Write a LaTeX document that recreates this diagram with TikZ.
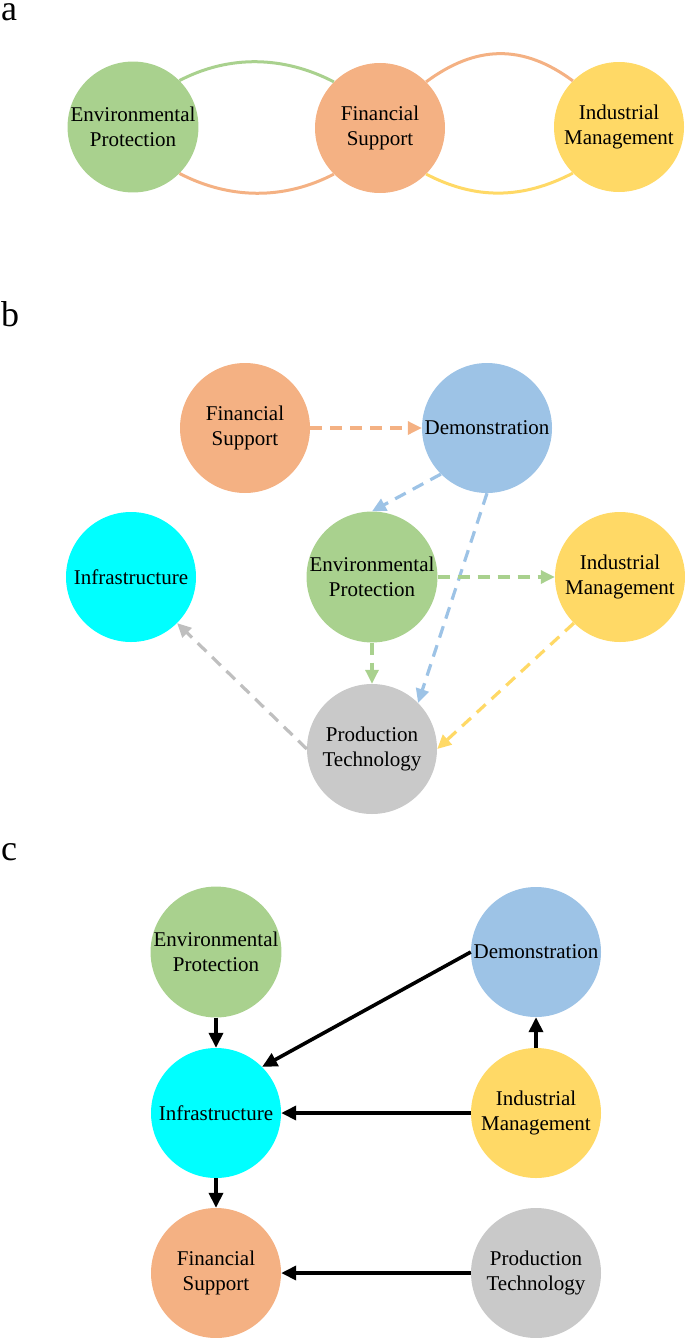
\documentclass[tikz,border=0pt]{standalone}
\usepackage{fontspec}
\setmainfont{Liberation Serif}
\usetikzlibrary{arrows.meta}
\definecolor{cgreen}{HTML}{A9D18E}
\definecolor{corange}{HTML}{F4B183}
\definecolor{cyellow}{HTML}{FFD966}
\definecolor{cblue}{HTML}{9DC3E6}
\definecolor{ccyan}{HTML}{00FFFF}
\definecolor{cgray}{HTML}{C9C9C9}
\definecolor{cgrayline}{HTML}{BFBFBF}
\tikzset{
  bub/.style={circle, minimum size=130pt, inner sep=0pt, align=center,
    font=\fontsize{21}{25}\selectfont},
  panel/.style={anchor=base west, inner sep=0pt, font=\fontsize{36}{36}\selectfont},
  arc/.style={line width=3pt},
  dasharrow/.style={line width=3.2pt, dash pattern=on 12pt off 8pt,
    -{Triangle[length=14pt,width=13pt]}},
  solidarrow/.style={line width=3.6pt, black, -{Triangle[length=15pt,width=14pt]}}
}
\begin{document}
\begin{tikzpicture}[x=1pt,y=-1pt]
\useasboundingbox (0,0) rectangle (685,1338);
% ---------- panel a ----------
\node[panel] (la) at (1,21) {a};
\node[bub, fill=cgreen]  (ga) at (133,127) {Environmental\\Protection};
\node[bub, fill=corange] (fa) at (380,128) {Financial\\Support};
\node[bub, fill=cyellow] (ia) at (619,127) {Industrial\\Management};
\draw[arc, cgreen]  (ga.45)  .. controls +(50,-26) and +(-50,-26) .. (fa.135);
\draw[arc, corange] (ga.-45) .. controls +(50,26) and +(-50,26) .. (fa.-135);
\draw[arc, corange] (fa.45)  .. controls +(50,-37) and +(-50,-37) .. (ia.135);
\draw[arc, cyellow] (fa.-45) .. controls +(50,26) and +(-50,26) .. (ia.-135);
% ---------- panel b ----------
\node[panel] (lb) at (1,326) {b};
\node[bub, fill=corange] (fb) at (245,428) {Financial\\Support};
\node[bub, fill=cblue]   (db) at (487,428) {Demonstration};
\node[bub, fill=ccyan]   (nb) at (131,577) {Infrastructure};
\node[bub, fill=cgreen]  (eb) at (372,577) {Environmental\\Protection};
\node[bub, fill=cyellow] (ib) at (620,577) {Industrial\\Management};
\node[bub, fill=cgray]   (pb) at (372,749) {Production\\Technology};
\draw[dasharrow, corange]   (fb.east) -- (db.west);
\draw[dasharrow, cblue]     (db.225) -- (eb.north);
\draw[dasharrow, cblue]     (db.south) -- (pb.45);
\draw[dasharrow, cgreen]    (eb.east) -- (ib.west);
\draw[dasharrow, cgreen]    (eb.south) -- (pb.north);
\draw[dasharrow, cyellow]   (ib.225) -- (pb.east);
\draw[dasharrow, cgrayline] (pb.west) -- (nb.-45);
% ---------- panel c ----------
\node[panel] (lc) at (1,860) {c};
\node[bub, fill=cgreen]  (ec) at (216,952)  {Environmental\\Protection};
\node[bub, fill=cblue]   (dc) at (536,952)  {Demonstration};
\node[bub, fill=ccyan]   (nc) at (216,1113) {Infrastructure};
\node[bub, fill=cyellow] (ic) at (536,1113) {Industrial\\Management};
\node[bub, fill=corange] (fc) at (216,1273) {Financial\\Support};
\node[bub, fill=cgray]   (pc) at (536,1273) {Production\\Technology};
\draw[solidarrow] (ec.south) -- (nc.north);
\draw[solidarrow] (ic.north) -- (dc.south);
\draw[solidarrow] (dc.west) -- (nc.45);
\draw[solidarrow] (ic.west) -- (nc.east);
\draw[solidarrow] (pc.west) -- (fc.east);
\draw[solidarrow] (nc.south) -- (fc.north);
\end{tikzpicture}
\end{document}
